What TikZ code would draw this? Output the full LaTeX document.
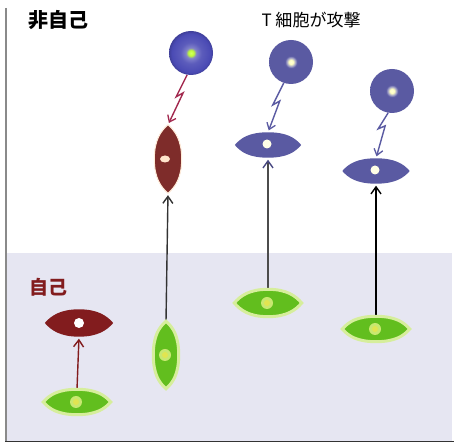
\documentclass[tikz,border=0pt]{standalone}
\usepackage{fontspec}
\newfontfamily\jp{Noto Sans CJK JP}
\usetikzlibrary{arrows.meta,calc}

\definecolor{selfbg}{HTML}{E6E6F2}
\definecolor{selfred}{HTML}{821C1E}
\definecolor{brownred}{HTML}{7E2C2A}
\definecolor{tblue}{HTML}{5A5AA2}
\definecolor{tviolet}{HTML}{4A4AB4}
\definecolor{cellgreen}{HTML}{62BE1E}
\definecolor{greenglow}{HTML}{D6EE9C}
\definecolor{greennuc}{HTML}{C8E870}
\definecolor{boltred}{HTML}{A2284E}
\definecolor{framegray}{HTML}{8A8A8A}

% radial shadings for the T cells
\pgfdeclareradialshading{tcellglow}{\pgfpoint{0bp}{0bp}}{%
  color(0bp)=(yellow!70!green!60!white);
  color(3bp)=(yellow!70!green!80!white);
  color(6bp)=(tviolet!70!white);
  color(12bp)=(tviolet!90!white);
  color(22bp)=(tviolet);
  color(25bp)=(tviolet!85!black);
  color(50bp)=(tviolet!85!black)}
\pgfdeclareradialshading{tcellflat}{\pgfpoint{0bp}{0bp}}{%
  color(0bp)=(yellow!15!white);
  color(2.5bp)=(yellow!25!white);
  color(5bp)=(tblue!60!white);
  color(7bp)=(tblue);
  color(50bp)=(tblue)}

\tikzset{
  x=1pt, y=1pt,
  hcell/.style={rectangle, inner sep=0pt, minimum width=67pt, minimum height=25pt},
  vcell/.style={rectangle, inner sep=0pt, minimum width=25pt, minimum height=67pt},
  tcell/.style={circle, inner sep=0pt, minimum size=44pt},
  linkarrow/.style={line width=1.4pt, shorten >=2pt,
    -{Straight Barb[length=7pt,width=10pt,line width=1.4pt]}},
  bolt/.style={line width=1.4pt, line join=miter, shorten >=2pt,
    -{Straight Barb[length=6pt,width=9pt,line width=1.3pt]}},
  label/.style={font=\jp, inner sep=0pt},
}
% cell outlines: an ellipse with pointed ends, drawn around a named box
\newcommand\lensh[2]{\path[#2] (#1.west)
  .. controls ($(#1.west)+(6,7)$) and ($(#1.north)+(-19,0)$) .. (#1.north)
  .. controls ($(#1.north)+(19,0)$) and ($(#1.east)+(-6,7)$) .. (#1.east)
  .. controls ($(#1.east)+(-6,-7)$) and ($(#1.south)+(19,0)$) .. (#1.south)
  .. controls ($(#1.south)+(-19,0)$) and ($(#1.west)+(6,-7)$) .. (#1.west) -- cycle;}
\newcommand\lensv[2]{\path[#2] (#1.south)
  .. controls ($(#1.south)+(-7,6)$) and ($(#1.west)+(0,-19)$) .. (#1.west)
  .. controls ($(#1.west)+(0,19)$) and ($(#1.north)+(-7,-6)$) .. (#1.north)
  .. controls ($(#1.north)+(7,-6)$) and ($(#1.east)+(0,19)$) .. (#1.east)
  .. controls ($(#1.east)+(0,-19)$) and ($(#1.south)+(7,6)$) .. (#1.south) -- cycle;}

\begin{document}
\begin{tikzpicture}
\useasboundingbox (0,0) rectangle (454,443);
\fill[white] (0,0) rectangle (454,443);

% lower band
\fill[selfbg] (7,2) rectangle (452,190);
\draw[framegray, line width=1.5pt] (6,435) -- (6,2);
\draw[black!80, line width=1.5pt] (5,1.5) -- (454,1.5);

% titles
\node[label, font=\jp\bfseries\fontsize{20}{20}\selectfont] (tNonself) at (58,423) {非自己};
\node[label, font=\jp\fontsize{17}{17}\selectfont] (tAttack) at (311,423) {T 細胞が攻撃};
\node[label, font=\jp\bfseries\fontsize{19}{19}\selectfont, text=selfred] (tSelf) at (48,156) {自己};

% cell boxes
\node[hcell] (g1) at (77,41) {};
\node[vcell] (g2) at (166,88) {};
\node[hcell, minimum height=27pt] (g3) at (268,140) {};
\node[hcell] (g4) at (376,114) {};
\node[hcell, minimum height=27pt, minimum width=68pt] (r1) at (79,120) {};
\node[vcell, minimum width=27pt, minimum height=68pt] (r2) at (168,284) {};
\node[hcell, minimum width=66pt] (b3) at (268,298) {};
\node[hcell] (b4) at (376,272) {};
\node[tcell] (c2) at (191,390) {};
\node[tcell] (c3) at (291,381) {};
\node[tcell] (c4) at (392,352) {};

% development arrows
\draw[linkarrow, selfred] (g1.north) -- (r1.south);
\draw[linkarrow, black!80] (g2.north) -- (r2.south);
\draw[line width=1.4pt, black!70, shorten >=2pt,
  -{Straight Barb[length=7pt,width=10pt,line width=1.4pt,color=tblue!80!black]}]
  (g3.north) -- (b3.south);
\draw[linkarrow, black] (g4.north) -- (b4.south);

% attack bolts
\draw[bolt, boltred] (c2.260) -- ++(-11,-22) -- ++(7,4) -- (r2.north);
\draw[bolt, tblue] (c3.251) -- ++(-11,-22) -- ++(7,4) -- (b3.north);
\draw[bolt, tblue] (c4.260) -- ++(-10,-16) -- ++(7,3) -- (b4.north);

% green precursor cells
\foreach \c in {g1,g3,g4}{\lensh{\c}{draw=greenglow, line width=3pt, fill=cellgreen}}
\lensv{g2}{draw=greenglow, line width=3pt, fill=cellgreen}
\foreach \c in {g1,g2,g3,g4}{
  \fill[greennuc] ([xshift=-1pt]\c.center) circle (6pt);
  \fill[yellow!40!greennuc] ([xshift=-1pt]\c.center) circle (3pt);
}

% self and non-self targets
\lensh{r1}{fill=selfred}
\fill[white] (r1.center) circle (5pt);
\lensv{r2}{draw=orange!15, line width=1pt, fill=brownred}
\fill[orange!20!white] ([xshift=-3pt]r2.center) ellipse (5pt and 3.5pt);
\lensh{b3}{fill=tblue}
\fill[yellow!10!white] ([xshift=-1pt,yshift=1pt]b3.center) circle (4.5pt);
\lensh{b4}{fill=tblue}
\fill[yellow!10!white] ([xshift=-1pt,yshift=1pt]b4.center) circle (4.5pt);

% T cells
\shade[shading=tcellglow] (c2.center) circle (22pt);
\shade[shading=tcellflat] (c3.center) circle (22pt);
\shade[shading=tcellflat] (c4.center) circle (22pt);
\end{tikzpicture}
\end{document}
